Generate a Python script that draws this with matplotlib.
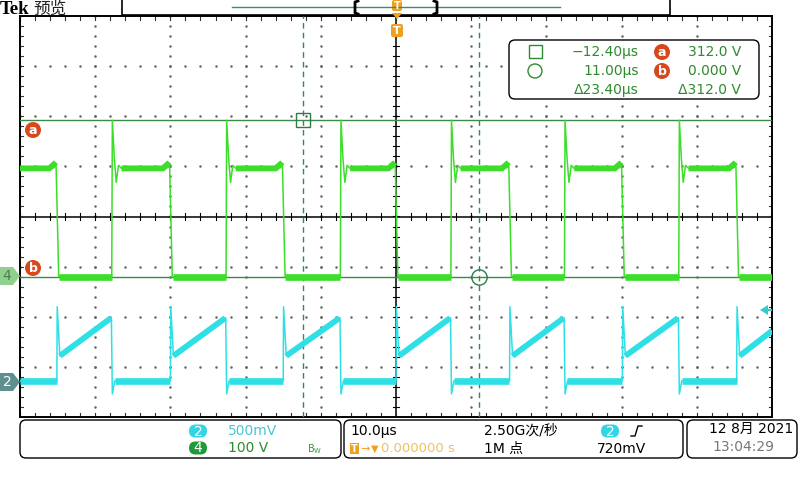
import numpy as np
import matplotlib.pyplot as plt
from matplotlib.patches import FancyBboxPatch, Rectangle, Circle, Polygon

plt.rcParams['font.family'] = ['DejaVu Sans', 'Noto Sans CJK SC']

# ------------------------------
# data
# ------------------------------
time_span = [-50.0, 50.0]          # µs, 10 µs/div
ch4_scale = 100.0                   # V/div
ch2_scale = 0.5                     # V/div
ch4_pos = -1.2                      # div, ground marker of CH4
ch2_pos = -3.32                     # div, ground marker of CH2

# CH4 falling edges (= CH2 turn-on) and rising edges, µs
fall_us = [-45.1, -30.0, -15.0, 0.0, 15.1, 30.1, 45.3]
rise_us = [-37.8, -22.6, -7.4, 7.3, 22.4, 37.6]

# CH4 levels (V)
ch4_high = 216
ch4_low = 0
# shape around a CH4 falling edge (µs from edge, V)
fall_dt = [-1.0, -0.4, -0.1, 0.25]
fall_v = [216, 224, 220, 0]
# ringing after a CH4 rising edge
ring_dt = [0.0, 0.08, 0.35, 0.6, 0.9, 1.3]
ring_v = [0, 312, 235, 188, 222, 216]

# CH2 levels (V)
ch2_low = 0.02
on_dt = [0.0, 0.05, 0.4]           # after CH4 fall
on_v = [0.02, 0.76, 0.27]
ramp_end = 0.65                     # just before CH4 rise
off_dt = [0.0, 0.08, 0.4]          # after CH4 rise
off_v = [0.65, -0.11, 0.02]
ch2_end_v = 0.52                    # value at right edge of screen

# cursors
cur1_t, cur2_t = -12.40, 11.00
cur_a_v, cur_b_v = 312.0, 0.0
trig_level = 0.72

# readouts
readout_rows = [["−12.40µs", "312.0 V"], ["11.00µs", "0.000 V"], ["Δ23.40µs", "Δ312.0 V"]]

# ------------------------------
# build traces
# ------------------------------
t4, v4 = [time_span[0]], [ch4_high]
t2, v2 = [time_span[0]], [ch2_low]
for i, tf in enumerate(fall_us):
    t4 += [tf + d for d in fall_dt]
    v4 += fall_v
    t2 += [tf + d for d in on_dt]
    v2 += on_v
    if i < len(rise_us):
        tr = rise_us[i]
        t4 += [tr + d for d in ring_dt]
        v4 += ring_v
        t2 += [tr - 0.05] + [tr + d for d in off_dt[1:]]
        v2 += [ramp_end] + off_v[1:]
t4.append(time_span[1]); v4.append(ch4_low)
t2.append(time_span[1]); v2.append(ch2_end_v)

t4 = np.array(t4); y4 = np.array(v4) / ch4_scale + ch4_pos
t2 = np.array(t2); y2 = np.array(v2) / ch2_scale + ch2_pos


def band(ax, t, y, t0, t1, color, lw):
    # thick noisy plateau segment (clip of the trace)
    m = (t > t0) & (t < t1)
    tt = np.concatenate([[t0], t[m], [t1]])
    yy = np.concatenate([[np.interp(t0, t, y)], y[m], [np.interp(t1, t, y)]])
    ax.plot(tt, yy, color=color, lw=lw, solid_capstyle='butt', solid_joinstyle='miter', zorder=4)


fig = plt.figure(figsize=(8, 4.8), dpi=100)
fig.patch.set_facecolor('white')

L, R, T, B = 20, 772, 16, 417
ax = fig.add_axes([L / 800, 1 - B / 480, (R - L) / 800, (B - T) / 480])
ax.set_xlim(*time_span)
ax.set_ylim(-4, 4)
ax.set_xticks([]); ax.set_yticks([])
for s in ax.spines.values():
    s.set_linewidth(1.4); s.set_color('black')

# graticule dots
dot = dict(ls='none', marker='s', ms=0.75, color='#666666', zorder=1)
ys = np.arange(-4, 4.01, 0.2)
xs = np.arange(-50, 50.01, 2)
for gx in range(-40, 50, 10):
    if gx != 0:
        ax.plot(np.full_like(ys, gx), ys, **dot)
for gy in range(-3, 4):
    if gy != 0:
        ax.plot(xs, np.full_like(xs, gy), **dot)
# center cross with ticks
ax.axhline(0, color='black', lw=1.1, zorder=2)
ax.axvline(0, color='black', lw=1.1, zorder=2)
for x in xs:
    ax.plot([x, x], [-0.06, 0.06], color='black', lw=0.8, zorder=2)
    ax.plot([x, x], [-4, -3.93], color='#333333', lw=0.8, zorder=2)
    ax.plot([x, x], [4, 3.93], color='#333333', lw=0.8, zorder=2)
for y in ys:
    ax.plot([-0.4, 0.4], [y, y], color='black', lw=0.8, zorder=2)
    ax.plot([-50, -49.6], [y, y], color='#333333', lw=0.8, zorder=2)
    ax.plot([50, 49.6], [y, y], color='#333333', lw=0.8, zorder=2)

green = '#3cde2a'
cyan = '#2ee0e6'

# cursors
cur_col = '#3a8a4a'
ax.axvline(cur1_t, color='#2f8a5a', lw=1, ls=(0, (4, 3)), zorder=3)
ax.axvline(cur2_t, color='#2f8a5a', lw=1, ls=(0, (4, 3)), zorder=3)
ax.axhline(cur_a_v / ch4_scale + ch4_pos, color=cur_col, lw=1, zorder=3)
ax.axhline(cur_b_v / ch4_scale + ch4_pos, color=cur_col, lw=1, zorder=3)

# traces
ax.plot(t4, y4, color=green, lw=1.1, zorder=4)
ax.plot(t2, y2, color=cyan, lw=1.1, zorder=4)
band(ax, t4, y4, time_span[0], fall_us[0] - 0.1, green, 4.2)
for i, tr in enumerate(rise_us):
    band(ax, t4, y4, tr + 1.3, fall_us[i + 1] - 0.1, green, 4.2)
    band(ax, t4, y4, fall_us[i] + 0.3, tr - 0.02, green, 4.8)
    band(ax, t2, y2, fall_us[i] + 0.4, tr - 0.1, cyan, 4.2)
    band(ax, t2, y2, tr + 0.4, fall_us[i + 1] - 0.02, cyan, 4.8)
band(ax, t4, y4, fall_us[-1] + 0.3, time_span[1], green, 4.8)
band(ax, t2, y2, time_span[0], fall_us[0] - 0.02, cyan, 4.8)
band(ax, t2, y2, fall_us[-1] + 0.4, time_span[1], cyan, 4.2)

# cursor markers
ax.plot([cur1_t], [cur_a_v / ch4_scale + ch4_pos], marker='s', ms=10, mfc='none',
        mec='#2f7a4a', mew=1, zorder=5)
ax.plot([cur2_t], [cur_b_v / ch4_scale + ch4_pos], marker='o', ms=11, mfc='none',
        mec='#2f7a4a', mew=1, zorder=5)

# ------------------------------
# screen overlay (pixel coords)
# ------------------------------
ui = fig.add_axes([0, 0, 1, 1], zorder=10)
ui.set_xlim(0, 800); ui.set_ylim(480, 0)
ui.axis('off')
ui.patch.set_alpha(0)

orange = '#f0a020'
red = '#d8481c'
txt_green = '#2e8b2e'


def badge(x, y, s, fc, tc='white', r=8, fs=9):
    ui.add_patch(Circle((x, y), r, fc=fc, ec='none'))
    ui.text(x, y + 0.5, s, color=tc, fontsize=fs, fontweight='bold', ha='center', va='center')


def pill(x, y, s, fc, w=28, h=13, tc='white'):
    ui.add_patch(FancyBboxPatch((x - w / 2 + 5, y - h / 2), w - 10, h,
                                boxstyle='round,pad=0,rounding_size=6.5', fc=fc, ec='none'))
    ui.text(x, y + 0.5, s, color=tc, fontsize=10, ha='center', va='center')


# header
ui.text(0, 9, 'Tek', fontsize=13.5, fontweight='bold', family='Liberation Serif', va='center')
ui.text(33, 9, '预览', fontsize=12, family=['Noto Sans CJK SC'], va='center', color='#222222')
ui.add_patch(Rectangle((122, -2), 548, 17, fc='white', ec='black', lw=1.2))
ui.plot([232, 560], [7, 7], color='#3c8c6c', lw=1)
ui.plot([358, 355, 355, 358], [1, 2, 13, 14], color='black', lw=2)
ui.plot([434, 437, 437, 434], [1, 2, 13, 14], color='black', lw=2)
ui.add_patch(FancyBboxPatch((392, 0), 10, 11, boxstyle='round,pad=0,rounding_size=2', fc=orange, ec='none'))
ui.text(397, 6, 'T', color='white', fontsize=7, fontweight='bold', ha='center', va='center')
ui.add_patch(Polygon([(392, 13), (402, 13), (397, 19)], fc=orange, ec='none'))
ui.add_patch(FancyBboxPatch((391, 24), 12, 13, boxstyle='round,pad=0,rounding_size=2', fc=orange, ec='none'))
ui.text(397, 31, 'T', color='white', fontsize=8, fontweight='bold', ha='center', va='center')

# cursor labels and channel tags
badge(33, 130, 'a', red)
badge(33, 268, 'b', red)
ui.add_patch(Polygon([(0, 267), (13, 267), (20, 276), (13, 285), (0, 285)], fc='#8fd08f', ec='none'))
ui.text(7, 276.5, '4', color='#4f7f4f', fontsize=10, ha='center', va='center')
ui.add_patch(Polygon([(0, 373), (13, 373), (20, 382), (13, 391), (0, 391)], fc='#5f8f8f', ec='none'))
ui.text(7, 382.5, '2', color='white', fontsize=10, ha='center', va='center')
ty = 216 - (trig_level / ch2_scale + ch2_pos) * 50
ui.add_patch(Polygon([(760, ty), (768, ty - 5), (768, ty + 5)], fc='#33cccc', ec='none'))
ui.plot([766, 771], [ty, ty], color='#33cccc', lw=1.5)

# cursor readout box
ui.add_patch(FancyBboxPatch((509, 40), 250, 59, boxstyle='round,pad=0,rounding_size=6',
                            fc='white', ec='black', lw=1))
ui.add_patch(Rectangle((529, 45), 13, 13, fc='none', ec=txt_green, lw=1))
ui.add_patch(Circle((535, 71), 7, fc='none', ec=txt_green, lw=1))
badge(662, 52, 'a', red)
badge(662, 71, 'b', red)
for row, yy in zip(readout_rows, [52, 71, 90]):
    ui.text(639, yy, row[0], color=txt_green, fontsize=10, ha='right', va='center')
    ui.text(741, yy, row[1], color=txt_green, fontsize=10, ha='right', va='center')

# bottom status boxes
for x0, x1 in [(20, 341), (344, 683), (687, 797)]:
    ui.add_patch(FancyBboxPatch((x0, 420), x1 - x0, 38, boxstyle='round,pad=0,rounding_size=6',
                                fc='white', ec='black', lw=1))
pill(198, 431, '2', '#33d4e4')
ui.text(228, 431, '500mV', color='#4cc4d4', fontsize=10, va='center')
pill(198, 448, '4', '#1f9a3a')
ui.text(228, 448, '100 V', color=txt_green, fontsize=10, va='center')
ui.text(307, 449, r'$\mathregular{B_W}$', color='#3a9a3a', fontsize=7, va='center')

ui.text(350, 431, '10.0µs', color='black', fontsize=10, va='center')
ui.add_patch(Rectangle((350, 443), 9, 11, fc=orange, ec='none'))
ui.text(354.5, 448.5, 'T', color='white', fontsize=7, fontweight='bold', ha='center', va='center')
ui.text(360, 449, '→', color=orange, fontsize=8, va='center')
ui.text(371, 449, '▼', color=orange, fontsize=7, va='center')
ui.text(381, 449, '0.000000 s', color='#f0c060', fontsize=9.5, va='center')
ui.text(484, 431, '2.50G次/秒', color='black', fontsize=10, va='center')
ui.text(484, 449, '1M 点', color='black', fontsize=10, va='center')
pill(610, 431, '2', '#33d4e4')
ui.plot([631, 635, 638, 642], [436, 436, 426, 426], color='black', lw=1)
ui.text(646, 449, '720mV', color='black', fontsize=10, ha='right', va='center')

ui.text(793, 429, '12 8月 2021', color='black', fontsize=10, ha='right', va='center')
ui.text(712, 447, '13:04:29', color='#777777', fontsize=10, va='center')

fig.savefig('out.png', dpi=100, facecolor='white')
